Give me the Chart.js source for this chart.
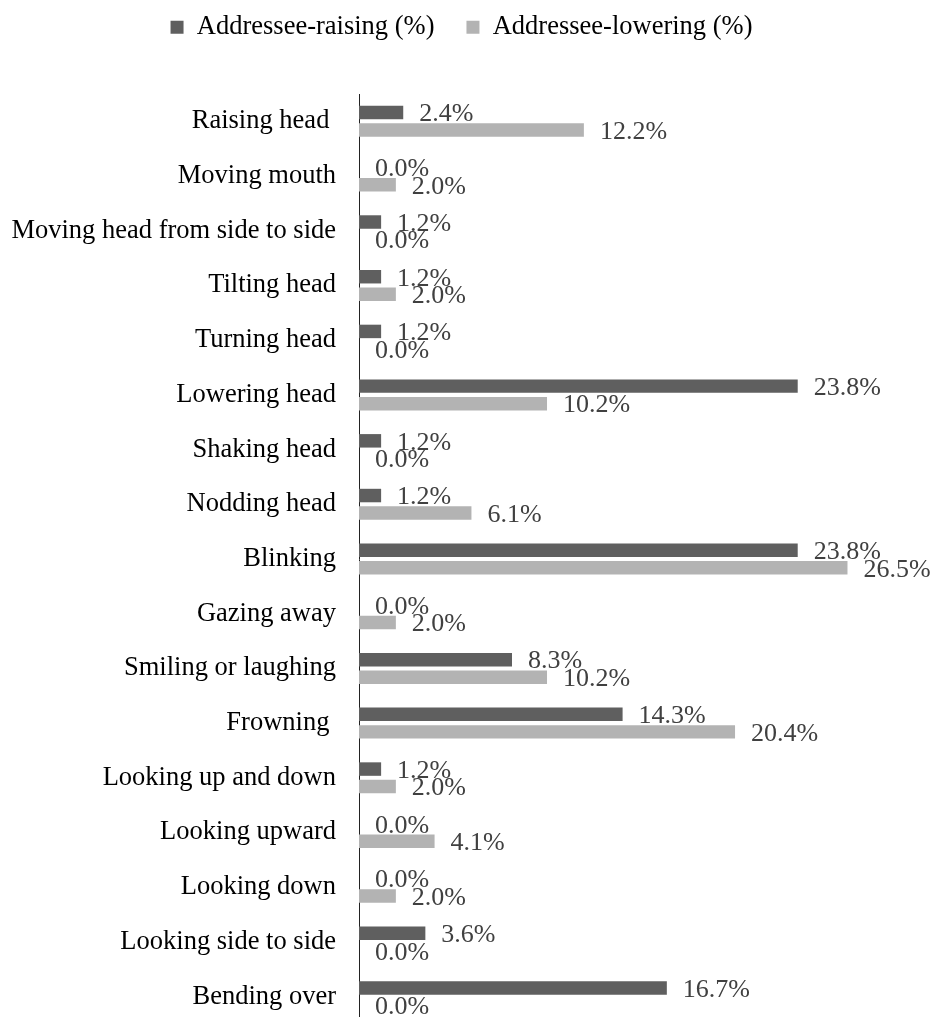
<!DOCTYPE html>
<html>
<head>
<meta charset="utf-8">
<script src="https://cdn.jsdelivr.net/npm/chart.js@4/dist/chart.umd.min.js"></script>
<style>
  html, body { margin: 0; padding: 0; background: #fff; overflow: hidden; }
  /* the plot runs a little past the bottom edge, as in the original */
  #wrap { width: 931px; height: 1017px; overflow: hidden; }
  #gestureChart { display: block; }
</style>
</head>
<body>
<div id="wrap"><canvas id="gestureChart" width="931" height="1024"></canvas></div>
<script>
const categories = [
  "Raising head ", "Moving mouth", "Moving head from side to side", "Tilting head",
  "Turning head", "Lowering head", "Shaking head", "Nodding head", "Blinking",
  "Gazing away", "Smiling or laughing", "Frowning ", "Looking up and down",
  "Looking upward", "Looking down", "Looking side to side", "Bending over"
];
const raisingValues = [2.4, 0.0, 1.2, 1.2, 1.2, 23.8, 1.2, 1.2, 23.8, 0.0, 8.3, 14.3, 1.2, 0.0, 0.0, 3.6, 16.7];
const loweringValues = [12.2, 2.0, 0.0, 2.0, 0.0, 10.2, 0.0, 6.1, 26.5, 2.0, 10.2, 20.4, 2.0, 4.1, 2.0, 0.0, 0.0];
const seriesNames = ["Addressee-raising (%)", "Addressee-lowering (%)"];

const serif = "'Liberation Serif', 'Times New Roman', serif";

// legend gets extra room below it, like the original layout
const legendSpace = {
  id: "legendSpace",
  beforeInit(chart) {
    const fit = chart.legend.fit;
    chart.legend.fit = function () {
      fit.call(this);
      this.height = 112;
    };
  }
};

// value labels just past the end of each bar
const valueLabels = {
  id: "valueLabels",
  afterDatasetsDraw(chart) {
    const ctx = chart.ctx;
    ctx.save();
    ctx.font = "26px " + serif;
    ctx.fillStyle = "#404040";
    ctx.textAlign = "left";
    ctx.textBaseline = "middle";
    chart.data.datasets.forEach((ds, i) => {
      chart.getDatasetMeta(i).data.forEach((bar, j) => {
        ctx.fillText(ds.data[j].toFixed(1) + "%", bar.x + 16, bar.y + 2);
      });
    });
    ctx.restore();
  }
};

new Chart(document.getElementById("gestureChart").getContext("2d"), {
  type: "bar",
  data: {
    labels: categories,
    datasets: [
      {
        label: seriesNames[0],
        data: raisingValues,
        backgroundColor: "#5f5f5f",
        categoryPercentage: 0.64,
        barPercentage: 0.77
      },
      {
        label: seriesNames[1],
        data: loweringValues,
        backgroundColor: "#b3b3b3",
        categoryPercentage: 0.64,
        barPercentage: 0.77
      }
    ]
  },
  options: {
    indexAxis: "y",
    responsive: false,
    animation: false,
    devicePixelRatio: 1,
    layout: { padding: { left: 11, right: 19, top: -18, bottom: 0 } },
    plugins: {
      tooltip: { enabled: false },
      legend: {
        position: "top",
        labels: {
          boxWidth: 13,
          boxHeight: 13,
          padding: 32,
          color: "#000",
          font: { family: serif, size: 26.5 }
        }
      }
    },
    scales: {
      x: {
        display: false,
        min: 0,
        max: 30
      },
      y: {
        grid: { display: false, drawTicks: false, tickLength: 0 },
        border: { display: true, color: "#222", width: 1 },
        ticks: {
          padding: 23,
          color: "#000",
          font: { family: serif, size: 26.5 }
        },
        afterFit(scale) {
          scale.width = 348;
          scale.paddingTop = 0;
          scale.paddingBottom = 0;
        }
      }
    }
  },
  plugins: [legendSpace, valueLabels]
});
</script>
</body>
</html>
